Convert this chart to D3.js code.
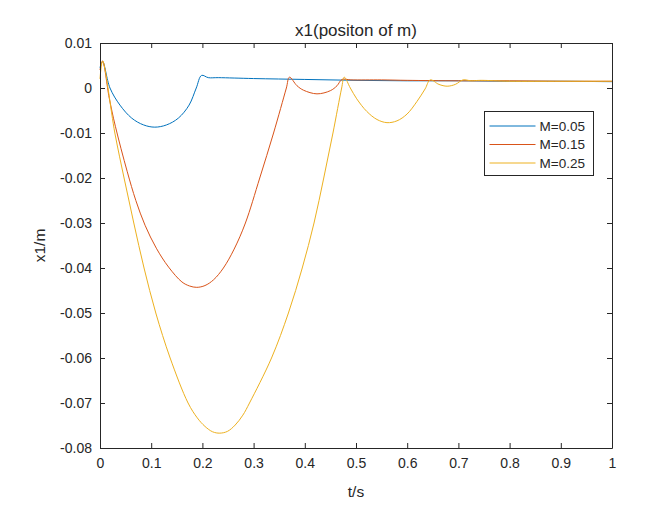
<!DOCTYPE html>
<html lang="en">
<head>
    <meta charset="UTF-8">
    <title>x1 position of m</title>
    <script src="https://d3js.org/d3.v7.min.js"></script>
    <style>
        body {
            margin: 0;
            background: #fff;
            font-family: "Liberation Sans", Arial, Helvetica, sans-serif;
        }
        svg text {
            fill: #262626;
        }
    </style>
</head>
<body>
    <div class="chart"></div>
    <script>

        // series
        var tBlue = [0, 0.005, 0.0195, 0.039, 0.062, 0.085, 0.107, 0.13, 0.153, 0.174, 0.188, 0.1984, 0.2115, 0.231, 0.3, 0.4, 0.5, 0.6, 0.7, 0.8, 0.9, 1];
        var vBlue = [0.0045, 0.0059, 0, -0.0038, -0.0067, -0.0082, -0.0087, -0.0082, -0.0067, -0.0038, 0, 0.0028, 0.0023, 0.0023, 0.0021, 0.0019, 0.0017, 0.0016, 0.0016, 0.0015, 0.0015, 0.0014];

        var tRed = [0, 0.005, 0.018, 0.030, 0.053, 0.07, 0.088, 0.11, 0.134, 0.16, 0.175, 0.189, 0.205, 0.222, 0.241, 0.262, 0.284, 0.312, 0.339, 0.364, 0.370, 0.3848, 0.3977, 0.4238, 0.4498, 0.4629, 0.4727, 0.49, 0.55, 0.6, 0.7, 0.8, 0.9, 1];
        var vRed = [0.004, 0.006, -0.0022, -0.0085, -0.0185, -0.025, -0.0305, -0.0356, -0.0398, -0.0431, -0.044, -0.0443, -0.0439, -0.0426, -0.04, -0.0358, -0.03, -0.02, -0.01, 0, 0.0024, 0.0005, -0.0005, -0.0013, -0.0006, 0.0005, 0.0019, 0.0018, 0.0018, 0.0017, 0.0016, 0.0016, 0.0015, 0.0015];

        var tYellow = [0, 0.005, 0.029, 0.047, 0.066, 0.086, 0.109, 0.137, 0.172, 0.19, 0.205, 0.22, 0.234, 0.249, 0.264, 0.279, 0.292, 0.335, 0.368, 0.395, 0.418, 0.437, 0.455, 0.472, 0.477, 0.4889, 0.5014, 0.521, 0.541, 0.5605, 0.58, 0.5996, 0.619, 0.635, 0.645, 0.662, 0.678, 0.694, 0.709, 0.725, 0.743, 0.8, 0.9, 1];
        var vYellow = [0.002, 0.006, -0.01, -0.02, -0.03, -0.04, -0.05, -0.06, -0.07, -0.0733, -0.0752, -0.0764, -0.0767, -0.0763, -0.0749, -0.0727, -0.07, -0.06, -0.05, -0.04, -0.03, -0.02, -0.01, 0, 0.0024, 0, -0.0024, -0.0052, -0.007, -0.0077, -0.0073, -0.0058, -0.003, -0.0002, 0.0018, 0.0008, 0.0004, 0.0008, 0.0018, 0.0016, 0.0017, 0.0015, 0.0015, 0.0015];

        var seriesNames = ["M=0.05", "M=0.15", "M=0.25"];
        var seriesColors = ["#0072BD", "#D95319", "#EDB120"];

        var xTicks = [0, 0.1, 0.2, 0.3, 0.4, 0.5, 0.6, 0.7, 0.8, 0.9, 1];
        var xTickLabels = ["0", "0.1", "0.2", "0.3", "0.4", "0.5", "0.6", "0.7", "0.8", "0.9", "1"];
        var yTicks = [0.01, 0, -0.01, -0.02, -0.03, -0.04, -0.05, -0.06, -0.07, -0.08];
        var yTickLabels = ["0.01", "0", "-0.01", "-0.02", "-0.03", "-0.04", "-0.05", "-0.06", "-0.07", "-0.08"];

        var svgWidth = 645,
            svgHeight = 515,
            plotLeft = 100,
            plotTop = 43,
            plotWidth = 512,
            plotHeight = 405;

        var svg = d3.select(".chart").append("svg")
                    .attr("width", svgWidth)
                    .attr("height", svgHeight);

        var x = d3.scaleLinear().domain([0, 1]).range([plotLeft, plotLeft + plotWidth]);
        var y = d3.scaleLinear().domain([-0.08, 0.01]).range([plotTop + plotHeight, plotTop]);

        var series = [
            { name: seriesNames[0], color: seriesColors[0], t: tBlue, v: vBlue },
            { name: seriesNames[1], color: seriesColors[1], t: tRed, v: vRed },
            { name: seriesNames[2], color: seriesColors[2], t: tYellow, v: vYellow }
        ];

        // lines
        var line = d3.line()
            .x(d => x(d[0]))
            .y(d => y(d[1]))
            .curve(d3.curveCatmullRom.alpha(0.5));

        svg.append("g")
            .selectAll("path")
            .data(series)
            .join("path")
            .attr("fill", "none")
            .attr("stroke", d => d.color)
            .attr("stroke-width", 1)
            .attr("d", d => line(d.t.map((t, i) => [t, d.v[i]])));

        // axes, ticks pointing inward like matlab
        function styleAxis(g) {
            g.select(".domain").attr("stroke", "#262626");
            g.selectAll(".tick line").attr("stroke", "#262626");
            g.selectAll(".tick text")
                .attr("fill", "#262626")
                .style("font-size", "14px")
                .style("font-family", "'Liberation Sans', Arial, sans-serif");
        }

        svg.append("g")
            .attr("transform", `translate(0,${plotTop + plotHeight})`)
            .call(d3.axisBottom(x).tickValues(xTicks).tickFormat((d, i) => xTickLabels[i])
                .tickSizeInner(-5).tickSizeOuter(0).tickPadding(10))
            .call(styleAxis);

        svg.append("g")
            .attr("transform", `translate(0,${plotTop})`)
            .call(d3.axisTop(x).tickValues(xTicks).tickFormat("")
                .tickSizeInner(-5).tickSizeOuter(0))
            .call(styleAxis);

        svg.append("g")
            .attr("transform", `translate(${plotLeft},0)`)
            .call(d3.axisLeft(y).tickValues(yTicks).tickFormat((d, i) => yTickLabels[i])
                .tickSizeInner(-5).tickSizeOuter(0).tickPadding(8))
            .call(styleAxis);

        svg.append("g")
            .attr("transform", `translate(${plotLeft + plotWidth},0)`)
            .call(d3.axisRight(y).tickValues(yTicks).tickFormat("")
                .tickSizeInner(-5).tickSizeOuter(0))
            .call(styleAxis);

        // title and labels
        svg.append("text")
            .attr("x", plotLeft + plotWidth / 2)
            .attr("y", 36)
            .attr("text-anchor", "middle")
            .style("font-size", "17px")
            .text("x1(positon of m)");

        svg.append("text")
            .attr("x", plotLeft + plotWidth / 2)
            .attr("y", 497)
            .attr("text-anchor", "middle")
            .style("font-size", "15.5px")
            .text("t/s");

        svg.append("text")
            .attr("transform", `translate(45,${plotTop + plotHeight / 2}) rotate(-90)`)
            .attr("text-anchor", "middle")
            .style("font-size", "15.5px")
            .text("x1/m");

        // legend
        var legend = svg.append("g")
            .attr("transform", "translate(484.5,111.5)");

        legend.append("rect")
            .attr("width", 109)
            .attr("height", 64)
            .attr("fill", "#fff")
            .attr("stroke", "#262626")
            .attr("stroke-width", 1);

        series.forEach((s, i) => {
            var dy = 14.5 + i * 18.5;
            legend.append("line")
                .attr("x1", 5)
                .attr("x2", 51)
                .attr("y1", dy)
                .attr("y2", dy)
                .attr("stroke", s.color)
                .attr("stroke-width", 1);

            legend.append("text")
                .attr("x", 55)
                .attr("y", dy)
                .attr("dy", "0.35em")
                .style("font-size", "13.5px")
                .text(s.name);
        });
    </script>
</body>
</html>
